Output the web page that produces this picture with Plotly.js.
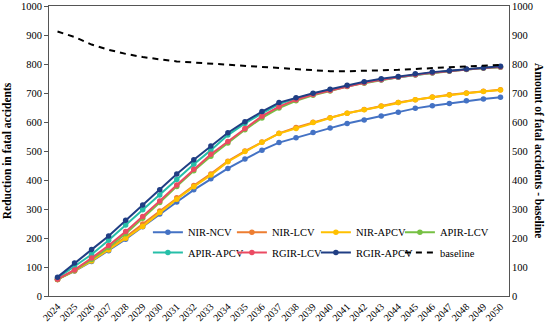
<!DOCTYPE html>
<html>
<head>
<meta charset="utf-8">
<script src="https://cdn.plot.ly/plotly-3.0.1.min.js"></script>
<style>html,body{margin:0;padding:0;background:#fff;}#chart{width:550px;height:328px;}</style>
</head>
<body>
<div id="chart"></div>
<script>
const years = ['2024','2025','2026','2027','2028','2029','2030','2031','2032','2033','2034','2035','2036','2037','2038','2039','2040','2041','2042','2043','2044','2045','2046','2047','2048','2049','2050'];

const nirNcv   = [57, 86, 119, 156, 196, 239, 283, 324, 366, 404, 440, 472, 503, 529, 546, 564, 579, 595, 607, 621, 634, 647, 656, 664, 673, 679, 685];
const nirLcv   = [57, 88, 123, 162, 203, 248, 293, 339, 381, 421, 465, 500, 531, 561, 581, 599, 615, 630, 643, 655, 667, 677, 686, 694, 700, 706, 711];
const nirApcv  = [57, 87, 121, 159, 199, 240, 288, 334, 377, 417, 463, 498, 530, 560, 578, 598, 614, 630, 642, 654, 667, 677, 685, 693, 699, 705, 710];
const apirLcv  = [57, 88, 126, 167, 215, 268, 322, 378, 432, 482, 528, 573, 614, 648, 673, 692, 707, 722, 734, 745, 754, 762, 769, 775, 781, 785, 789];
const apirApcv = [62, 101, 143, 192, 245, 297, 348, 402, 454, 503, 555, 595, 630, 662, 681, 697, 710, 724, 736, 746, 754, 763, 770, 776, 782, 786, 790];
const rgirLcv  = [58, 90, 131, 174, 222, 274, 328, 383, 437, 489, 533, 578, 620, 653, 677, 695, 709, 723, 735, 746, 755, 763, 770, 776, 782, 786, 790];
const rgirApcv = [65, 114, 160, 207, 261, 314, 366, 421, 470, 517, 563, 601, 636, 667, 684, 699, 713, 727, 739, 749, 757, 766, 772, 777, 783, 787, 792];
const baseline = [912, 893, 867, 849, 835, 824, 816, 809, 805, 801, 798, 795, 791, 787, 783, 779, 775, 775, 776, 778, 780, 783, 786, 790, 793, 795, 797];

const names  = ['NIR-NCV','NIR-LCV','NIR-APCV','APIR-LCV','APIR-APCV','RGIR-LCV','RGIR-APCV'];
const series = [nirNcv, nirLcv, nirApcv, apirLcv, apirApcv, rgirLcv, rgirApcv];
const colors = ['#4472C4','#ED7D31','#FFC000','#76C043','#26BFA8','#EB4A62','#203E84'];

const FONT = '"Liberation Serif", "Times New Roman", serif';

const traces = series.map((s, i) => ({
  x: years, y: s, name: names[i], type: 'scatter', mode: 'lines+markers',
  line: {color: colors[i], width: 2},
  marker: {color: colors[i], size: 5.5},
  yaxis: 'y',
  legend: i < 4 ? 'legend' : 'legend2',
  legendwidth: i === 3 ? 50 : undefined
}));
traces.push({
  x: years, y: baseline, name: 'baseline', type: 'scatter', mode: 'lines',
  line: {color: '#000000', width: 2, dash: '6px,5px'},
  yaxis: 'y2', legend: 'legend2', legendwidth: 50
});

const legendBase = {
  orientation: 'h', xanchor: 'left', yanchor: 'top',
  bgcolor: 'rgba(0,0,0,0)', borderwidth: 0,
  font: {family: FONT, size: 10.5},
  entrywidth: 39, entrywidthmode: 'pixels', traceorder: 'normal'
};

const layout = {
  width: 550, height: 328,
  margin: {l: 49, r: 41, t: 6, b: 32},
  paper_bgcolor: '#ffffff', plot_bgcolor: '#ffffff',
  font: {family: FONT, size: 10.5, color: '#000'},
  showlegend: true,
  xaxis: {
    type: 'category', range: [-0.5, 26.5],
    showline: true, linecolor: '#555', linewidth: 1, mirror: true,
    showgrid: false, zeroline: false, ticks: '',
    tickangle: -45, tickfont: {family: FONT, size: 10}
  },
  yaxis: {
    range: [0, 1000], dtick: 100, showgrid: false, zeroline: false,
    showline: true, linecolor: '#555', linewidth: 1,
    ticks: 'outside', ticklen: 4, tickcolor: '#555',
    tickfont: {family: FONT, size: 10.5},
    title: {text: '<b>Reduction in fatal accidents</b>', font: {family: FONT, size: 11.5}, standoff: 6}
  },
  yaxis2: {
    range: [0, 1000], dtick: 100, overlaying: 'y', side: 'right',
    showgrid: false, zeroline: false, showline: true, linecolor: '#555', linewidth: 1,
    ticks: '', tickfont: {family: FONT, size: 10.5}
  },
  legend: Object.assign({}, legendBase, {x: 0.215, y: 0.27}),
  legend2: Object.assign({}, legendBase, {x: 0.215, y: 0.20}),
  annotations: [{
    text: '<b>Amount of fatal accidents - baseline</b>',
    xref: 'paper', yref: 'paper', x: 1.065, y: 0.5, xanchor: 'center', yanchor: 'middle',
    textangle: 90, showarrow: false, font: {family: FONT, size: 11.5}
  }]
};

Plotly.newPlot('chart', traces, layout, {displayModeBar: false, staticPlot: true});
</script>
</body>
</html>
